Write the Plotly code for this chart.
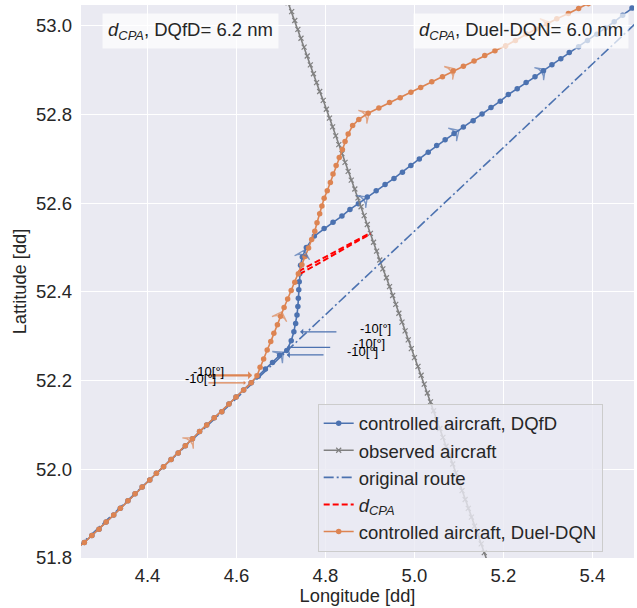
import plotly.graph_objects as go

# ---------------- data ----------------
shared_lon = [4.242, 4.258, 4.275, 4.291, 4.307, 4.324, 4.339, 4.356, 4.372, 4.388, 4.405, 4.420, 4.436,
              4.453, 4.469, 4.485, 4.501, 4.517, 4.533, 4.550, 4.567, 4.583, 4.599, 4.616, 4.633]
shared_lat = [51.823, 51.835, 51.851, 51.865, 51.881, 51.897, 51.912, 51.929, 51.945, 51.960, 51.976, 51.991, 52.006,
              52.022, 52.037, 52.053, 52.069, 52.085, 52.100, 52.116, 52.130, 52.147, 52.163, 52.179, 52.195]

dqfd_lon = shared_lon + [4.649, 4.665, 4.681, 4.697, 4.713, 4.723, 4.729, 4.733, 4.736, 4.738, 4.739, 4.740,
                         4.741, 4.742, 4.744, 4.748, 4.757, 4.775, 4.797, 4.817, 4.837, 4.855, 4.874, 4.894,
                         4.914, 4.934, 4.954, 4.973, 4.992, 5.011, 5.031, 5.050, 5.069, 5.089, 5.110, 5.132,
                         5.152, 5.172, 5.193, 5.211, 5.231, 5.251, 5.271, 5.290, 5.309, 5.329, 5.348, 5.369,
                         5.389, 5.410, 5.429, 5.449, 5.468, 5.489, 5.509]
dqfd_lat = shared_lat + [52.210, 52.226, 52.241, 52.257, 52.268, 52.290, 52.310, 52.329, 52.348, 52.367, 52.386, 52.405,
                         52.423, 52.441, 52.460, 52.479, 52.500, 52.526, 52.543, 52.557, 52.571, 52.586, 52.599, 52.614,
                         52.628, 52.642, 52.656, 52.670, 52.685, 52.700, 52.715, 52.730, 52.743, 52.757, 52.772, 52.786,
                         52.801, 52.816, 52.830, 52.845, 52.858, 52.872, 52.885, 52.899, 52.912, 52.926, 52.940, 52.953,
                         52.967, 52.981, 52.995, 53.009, 53.024, 53.040, 53.054]

duel_lon = shared_lon + [4.646, 4.653, 4.661, 4.669, 4.677, 4.684, 4.692, 4.699, 4.707, 4.715, 4.723, 4.731,
                         4.739, 4.747, 4.754, 4.762, 4.769, 4.776, 4.781, 4.787, 4.792, 4.797, 4.804, 4.811,
                         4.817, 4.824, 4.831, 4.838, 4.844, 4.851, 4.861, 4.875, 4.896, 4.920, 4.944, 4.968,
                         4.992, 5.014, 5.039, 5.063, 5.087, 5.110, 5.134, 5.158, 5.181, 5.205, 5.227, 5.251,
                         5.273, 5.298, 5.320, 5.346, 5.369, 5.391, 5.414]
duel_lat = shared_lat + [52.211, 52.230, 52.249, 52.269, 52.288, 52.307, 52.326, 52.345, 52.365, 52.384, 52.403, 52.422,
                         52.441, 52.461, 52.480, 52.499, 52.518, 52.537, 52.556, 52.576, 52.594, 52.611, 52.628, 52.647,
                         52.666, 52.685, 52.703, 52.721, 52.739, 52.756, 52.775, 52.789, 52.803, 52.815, 52.827, 52.838,
                         52.850, 52.861, 52.874, 52.885, 52.898, 52.909, 52.921, 52.933, 52.944, 52.955, 52.967, 52.982,
                         52.993, 53.004, 53.016, 53.028, 53.039, 53.050, 53.062]

observed_lon = [4.709, 4.716, 4.724, 4.731, 4.738, 4.745, 4.752, 4.759, 4.766, 4.773, 4.780, 4.787, 4.795,
                4.802, 4.809, 4.816, 4.823, 4.830, 4.837, 4.844, 4.851, 4.858, 4.866, 4.873, 4.880, 4.887,
                4.894, 4.901, 4.908, 4.915, 4.922, 4.929, 4.937, 4.944, 4.951, 4.958, 4.965, 4.972, 4.979,
                4.986, 4.993, 5.000, 5.008, 5.015, 5.022, 5.029, 5.036, 5.043, 5.050, 5.057, 5.064, 5.071,
                5.079, 5.086, 5.093, 5.100, 5.107, 5.114, 5.121, 5.128, 5.135, 5.142, 5.150, 5.157, 5.164]
observed_lat = [53.072, 53.052, 53.032, 53.012, 52.992, 52.972, 52.952, 52.932, 52.912, 52.892, 52.872, 52.852, 52.832,
                52.812, 52.792, 52.772, 52.752, 52.732, 52.712, 52.692, 52.672, 52.652, 52.632, 52.612, 52.592, 52.572,
                52.552, 52.532, 52.512, 52.492, 52.472, 52.452, 52.432, 52.412, 52.392, 52.372, 52.352, 52.332, 52.312,
                52.292, 52.272, 52.252, 52.232, 52.212, 52.192, 52.172, 52.152, 52.132, 52.112, 52.092, 52.072, 52.052,
                52.032, 52.012, 51.992, 51.972, 51.952, 51.932, 51.912, 51.892, 51.872, 51.852, 51.832, 51.812, 51.792]

route_lon = [4.240, 5.520]
route_lat = [51.821, 53.027]

dcpa_lon = [4.742, 4.901, None, 4.740, 4.901]
dcpa_lat = [52.440, 52.531, None, 52.447, 52.533]

# direction arrows: (previous point, arrow point) pairs
dqfd_arrow_lon = [4.697, 4.705, 4.748, 4.752, 4.874, 4.894, 5.089, 5.100, 5.271, 5.294]
dqfd_arrow_lat = [52.257, 52.264, 52.479, 52.494, 52.599, 52.614, 52.757, 52.764, 52.885, 52.902]
duel_arrow_lon = [4.485, 4.503, 4.692, 4.702, 4.875, 4.898, 5.063, 5.091, 5.273, 5.305]
duel_arrow_lat = [52.053, 52.071, 52.326, 52.355, 52.789, 52.804, 52.885, 52.903, 52.993, 53.008]

# heading-change labels
action_label = "-10[°]"
dqfd_action_lon = [4.743, 4.713, 4.713]
dqfd_action_lat = [52.310, 52.275, 52.258]
duel_action_lon = [4.635, 4.621]
duel_action_lat = [52.212, 52.195]

dcpa_dqfd = 6.2
dcpa_duel = 6.0

# ---------------- styling ----------------
BLUE = "#4C72B0"
ORANGE = "#DD8452"
GREY = "#808080"
FONT = "Liberation Sans, Arial, sans-serif"
TXT = "#262626"

fig = go.Figure()

fig.add_trace(go.Scatter(x=dqfd_lon, y=dqfd_lat, mode="lines+markers",
                         name="controlled aircraft, DQfD",
                         line=dict(color=BLUE, width=1.6),
                         marker=dict(color=BLUE, size=5.5)))
fig.add_trace(go.Scatter(x=observed_lon, y=observed_lat, mode="lines+markers",
                         name="observed aircraft",
                         line=dict(color=GREY, width=1.6),
                         marker=dict(symbol="x-thin", size=5, color=GREY,
                                     line=dict(color=GREY, width=1.2))))
fig.add_trace(go.Scatter(x=route_lon, y=route_lat, mode="lines",
                         name="original route",
                         line=dict(color=BLUE, width=1.6, dash="10px,3px,2px,3px")))
fig.add_trace(go.Scatter(x=dcpa_lon, y=dcpa_lat, mode="lines",
                         name="<i>d</i><sub><i>CPA</i></sub>",
                         line=dict(color="red", width=2, dash="6px,3px")))
fig.add_trace(go.Scatter(x=duel_lon, y=duel_lat, mode="lines+markers",
                         name="controlled aircraft, Duel-DQN",
                         line=dict(color=ORANGE, width=1.6),
                         marker=dict(color=ORANGE, size=5.5)))


def arrow_trace(lon, lat, color):
    sizes = [0 if i % 2 == 0 else 11 for i in range(len(lon))]
    return go.Scatter(x=lon, y=lat, mode="markers", showlegend=False, hoverinfo="skip",
                      marker=dict(symbol="arrow-wide-open", size=sizes, angleref="previous",
                                  color=color, line=dict(color=color, width=1.3)))


fig.add_trace(arrow_trace(dqfd_arrow_lon, dqfd_arrow_lat, BLUE))
fig.add_trace(arrow_trace(duel_arrow_lon, duel_arrow_lat, ORANGE))

annotations = []
# heading change arrows + labels (DQfD: label on the right, Duel-DQN: label on the left)
dqfd_tail_dx = [0.085, 0.101, 0.086]
dqfd_text_off = [(0.170, 0.008), (0.185, 0.009), (0.170, 0.008)]
for i, (x, y) in enumerate(zip(dqfd_action_lon, dqfd_action_lat)):
    annotations.append(dict(x=x, y=y, xref="x", yref="y", ax=x + dqfd_tail_dx[i], ay=y,
                            axref="x", ayref="y", text="", showarrow=True,
                            arrowhead=1, arrowsize=0.8, arrowwidth=1.3, arrowcolor=BLUE))
    annotations.append(dict(x=x + dqfd_text_off[i][0], y=y + dqfd_text_off[i][1], xref="x", yref="y",
                            text=action_label, showarrow=False,
                            font=dict(family=FONT, size=13, color="black")))
duel_text_off = [(-0.098, 0.008), (-0.103, 0.009)]
duel_widths = [2.2, 1.2]
for i, (x, y) in enumerate(zip(duel_action_lon, duel_action_lat)):
    annotations.append(dict(x=x, y=y, xref="x", yref="y", ax=4.5335, ay=y,
                            axref="x", ayref="y", text="", showarrow=True,
                            arrowhead=1, arrowsize=0.6, arrowwidth=duel_widths[i], arrowcolor=ORANGE))
    annotations.append(dict(x=x + duel_text_off[i][0], y=y + duel_text_off[i][1], xref="x", yref="y",
                            text=action_label, showarrow=False,
                            font=dict(family=FONT, size=13, color="black")))

annotations.append(dict(x=0.198, y=0.953, xref="paper", yref="paper", xanchor="center", yanchor="middle",
                        text=f"<i>d</i><sub><i>CPA</i></sub>, DQfD= {dcpa_dqfd} nm", showarrow=False,
                        font=dict(family=FONT, size=18.5, color=TXT),
                        bgcolor="rgba(255,255,255,0.7)", borderpad=5))
annotations.append(dict(x=0.796, y=0.953, xref="paper", yref="paper", xanchor="center", yanchor="middle",
                        text=f"<i>d</i><sub><i>CPA</i></sub>, Duel-DQN= {dcpa_duel} nm", showarrow=False,
                        font=dict(family=FONT, size=18.5, color=TXT),
                        bgcolor="rgba(255,255,255,0.7)", borderpad=5))

fig.update_layout(
    width=637, height=608,
    margin=dict(l=81, r=3, t=5, b=50),
    paper_bgcolor="white", plot_bgcolor="#EAEAF2",
    font=dict(family=FONT, size=18.5, color=TXT),
    showlegend=True,
    legend=dict(x=0.428, y=0.279, xanchor="left", yanchor="top",
                bgcolor="rgba(234,234,242,0.8)", bordercolor="#CCCCCC", borderwidth=1,
                font=dict(family=FONT, size=18.5, color=TXT), tracegroupgap=0),
    annotations=annotations,
)
fig.update_xaxes(range=[4.2505, 5.4935], tickvals=[4.4, 4.6, 4.8, 5.0, 5.2, 5.4],
                 ticktext=["4.4", "4.6", "4.8", "5.0", "5.2", "5.4"],
                 showgrid=True, gridcolor="white", gridwidth=1.2, zeroline=False, showline=False,
                 ticks="", ticklabelstandoff=4,
                 title=dict(text="Longitude [dd]", standoff=4, font=dict(family=FONT, size=18.3, color=TXT)),
                 tickfont=dict(size=18.5))
fig.update_yaxes(range=[51.8, 53.047], tickvals=[51.8, 52.0, 52.2, 52.4, 52.6, 52.8, 53.0],
                 ticktext=["51.8", "52.0", "52.2", "52.4", "52.6", "52.8", "53.0"],
                 showgrid=True, gridcolor="white", gridwidth=1.2, zeroline=False, showline=False,
                 ticks="", ticklabelstandoff=8,
                 title=dict(text="Lattitude [dd]", standoff=4, font=dict(family=FONT, size=18.3, color=TXT)),
                 tickfont=dict(size=18.5))

fig.write_html("out.html")
